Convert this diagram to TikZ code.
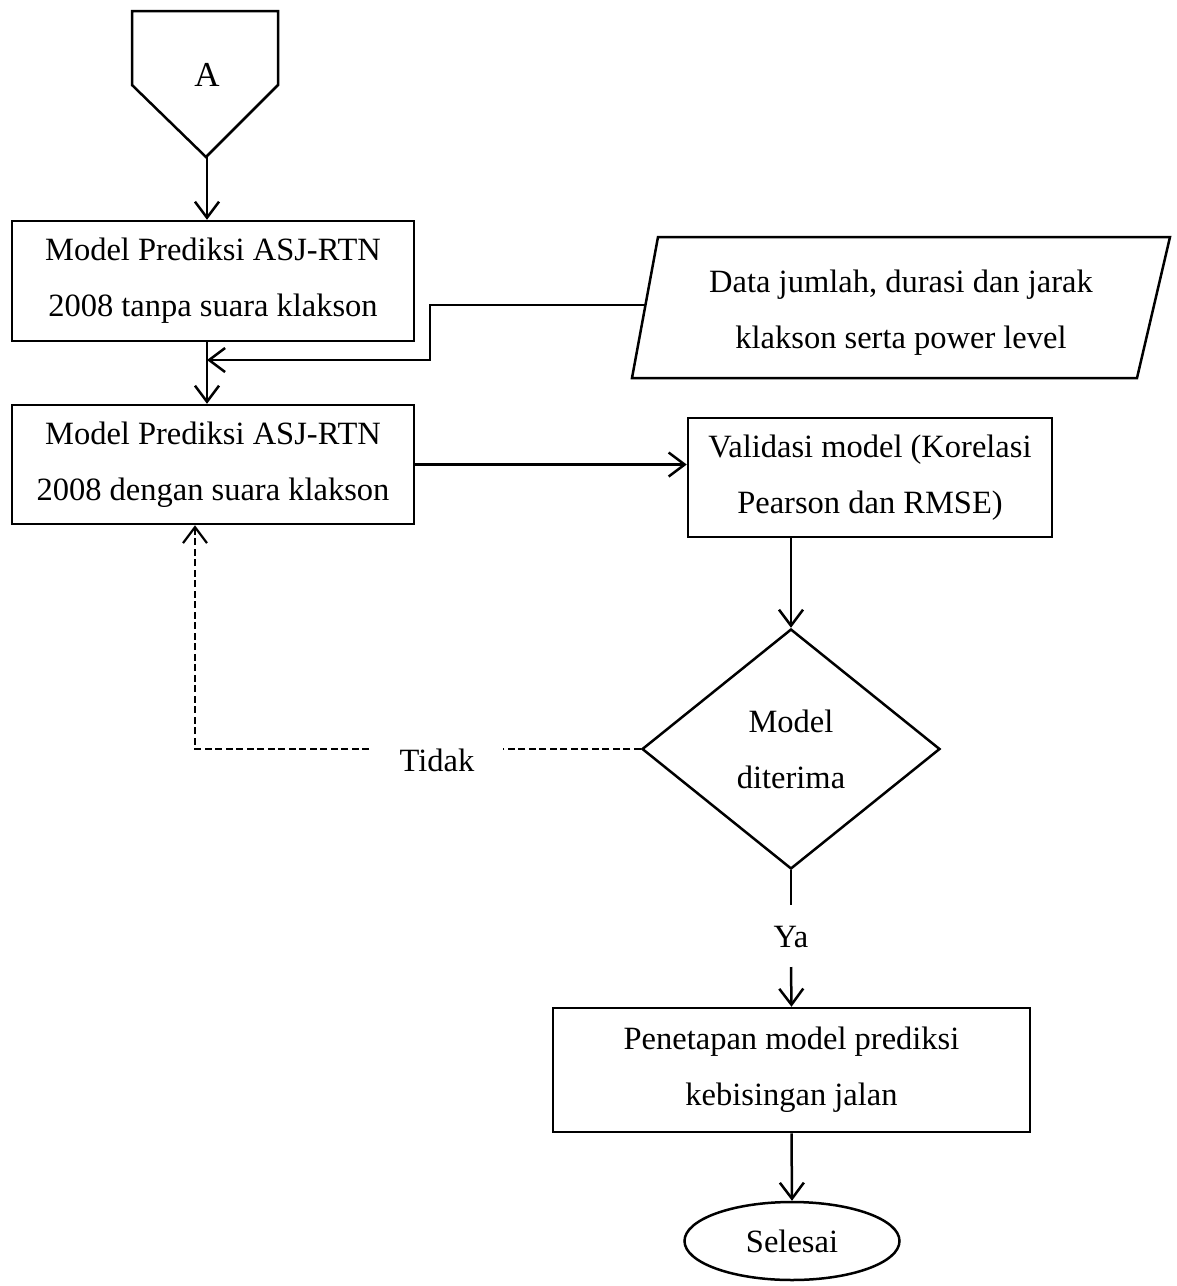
\documentclass[tikz,border=0pt]{standalone}
\usepackage{fontspec}
\setmainfont{Liberation Serif}
\usetikzlibrary{arrows.meta,shapes.geometric}

\begin{document}
\begin{tikzpicture}[x=1pt,y=-1pt,
  line width=2.5pt,
  every node/.style={font=\fontsize{32.5}{56}\selectfont, align=center},
  procbox/.style={draw, rectangle, inner sep=0pt},
  flow/.style={-{Straight Barb[length=16pt,width=24pt]}},
  back/.style={line width=2.2pt, dash pattern=on 7pt off 3.5pt},
]
\useasboundingbox (0,0) rectangle (1177,1286);

% off-page connector
\draw (132,11) -- (278,11) -- (278,85) -- (206,157) -- (132,85) -- cycle;
\node[font=\fontsize{35}{40}\selectfont] (A) at (207,75) {A};
\coordinate (Atip) at (207,157);

% process boxes
\node[procbox, minimum width=402pt, minimum height=120pt] (m1) at (213,281)
  {Model Prediksi ASJ-RTN\\2008 tanpa suara klakson};
\node[procbox, minimum width=402pt, minimum height=119pt] (m2) at (213,464.5)
  {Model Prediksi ASJ-RTN\\2008 dengan suara klakson};
\node[procbox, minimum width=364pt, minimum height=119pt] (val) at (870,477.5)
  {Validasi model (Korelasi\\Pearson dan RMSE)};

% input data (parallelogram)
\draw (658,237) -- (1170,237) -- (1137,378) -- (632,378) -- cycle;
\node (data) at (901,313) {Data jumlah, durasi dan jarak\\klakson serta power level};
\coordinate (dIn) at (645,305);
\coordinate (jn) at (207,360);

% decision
\node[draw, diamond, aspect=1.24, minimum width=298pt, minimum height=240pt, inner sep=0pt]
  (dec) at (791,749) {Model\\diterima};

\node[procbox, minimum width=477pt, minimum height=124pt] (fin) at (791.5,1070)
  {Penetapan model prediksi\\kebisingan jalan};
\node[draw, ellipse, minimum width=215pt, minimum height=78pt, inner sep=0pt]
  (end) at (792,1241) {Selesai};

% labels on the branches
\node (ya) at (791,937) {Ya};
\coordinate (yaA) at (791,905);
\coordinate (yaB) at (791,967);
\node (tid) at (437,760) {Tidak};
\coordinate (gapR) at (503,749);
\coordinate (gapL) at (369,749);
\coordinate (loop) at (195,749);

% connectors
\draw[flow] (Atip) -- (Atip |- m1.north);
\draw[flow] (Atip |- m1.south) -- (Atip |- m2.north);
\draw[flow] (dIn) -- ++(-215,0) |- (jn);
\draw[flow] (m2.east) -- (m2.east -| val.west);
\draw[flow] (val.south -| dec.north) -- (dec.north);
\draw (dec.south) -- (yaA);
\draw[flow] (yaB) -- (fin.north);
\draw[flow] (fin.south) -- (end.north);
\draw[back] (dec.west) -- (gapR);
\draw[back, flow] (gapL) -- (loop) -- (loop |- m2.south);
\end{tikzpicture}
\end{document}
